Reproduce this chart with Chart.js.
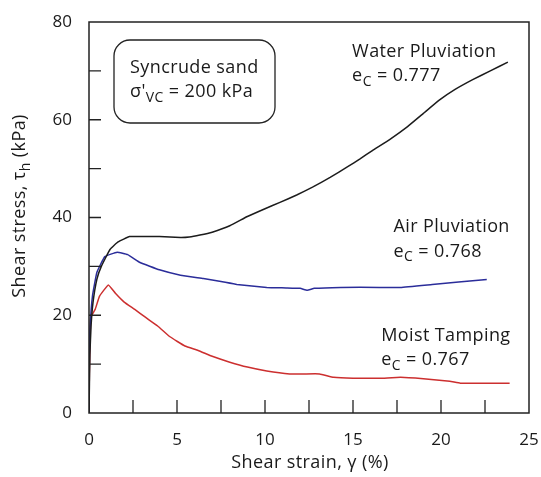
<!DOCTYPE html>
<html>
<head>
<meta charset="utf-8">
<script src="https://cdn.jsdelivr.net/npm/chart.js@4"></script>
<style>
  body { margin: 0; background: #fff; }
  #wrap { width: 541px; height: 477px; }
</style>
</head>
<body>
<div id="wrap"><canvas id="myChart"></canvas></div>
<script>
// shear strain (%) / shear stress (kPa)
var waterStrain = [0, 0.05, 0.12, 0.23, 0.45, 0.7, 1.2, 1.65, 2.3, 3, 4, 5.2, 5.7, 6.3, 7.0, 8.0, 9.0, 10.0, 10.85, 11.8, 12.7, 13.7, 14.7, 15.4, 16.1, 17.1, 18.1, 19.0, 19.9, 20.8, 21.8, 22.8, 23.8];
var waterStress = [0, 12, 18, 22.7, 27.4, 30, 33.5, 35, 36.1, 36.1, 36.1, 35.9, 36, 36.4, 37, 38.3, 40.2, 41.8, 43.1, 44.6, 46.2, 48.2, 50.4, 52, 53.7, 56, 58.6, 61.3, 64, 66.2, 68.2, 70, 71.8];

var airStrain = [0, 0.02, 0.05, 0.2, 0.45, 0.9, 1.6, 2.2, 2.9, 4, 5.2, 6.5, 7.5, 8.4, 10.1, 11.2, 12.0, 12.4, 12.8, 14.3, 16.5, 17.7, 19.5, 21, 22.6];
var airStress = [0, 11.6, 17, 24, 28.8, 32, 32.9, 32.4, 30.8, 29.3, 28.2, 27.5, 26.9, 26.3, 25.7, 25.6, 25.5, 25.1, 25.5, 25.7, 25.7, 25.7, 26.3, 26.8, 27.3];

var moistStrain = [0, 0.02, 0.05, 0.1, 0.35, 0.6, 1.1, 1.5, 2.0, 2.6, 3.2, 3.9, 4.6, 5.45, 6.2, 7.0, 8.0, 9.0, 10.1, 11.4, 12.2, 13.1, 13.9, 15.0, 16.5, 17.7, 19.0, 20.5, 21.1, 22.5, 23.9];
var moistStress = [0, 8, 13, 19.6, 21.2, 23.9, 26.2, 24.5, 22.7, 21.2, 19.6, 17.8, 15.6, 13.7, 12.8, 11.6, 10.4, 9.4, 8.6, 8.0, 8.0, 8.0, 7.3, 7.1, 7.1, 7.3, 7.0, 6.5, 6.1, 6.1, 6.1];

var xTickLabels = [0, 5, 10, 15, 20, 25];
var yTickLabels = [0, 20, 40, 60, 80];

// labels next to the curves (position in data units)
var curveNotes = [
  { name: 'Water Pluviation', ec: '0.777', x: 14.95, y: 73.9, y2: 68.9 },
  { name: 'Air Pluviation', ec: '0.768', x: 17.3, y: 38.1, y2: 33.0 },
  { name: 'Moist Tamping', ec: '0.767', x: 16.6, y: 15.8, y2: 10.8 }
];

function pts(xs, ys) {
  var out = [];
  for (var i = 0; i < xs.length; i++) out.push({ x: xs[i], y: ys[i] });
  return out;
}

var FONT = '"Open Sans", sans-serif';
var TXT = 18;

// text with subscript parts: [[text, isSub], ...]
function drawRich(ctx, parts, x, y, size) {
  var cx = x;
  parts.forEach(function (p) {
    if (p[1]) {
      ctx.font = Math.round(size * 0.78) + 'px ' + FONT;
      ctx.fillText(p[0], cx, y + size * 0.32);
    } else {
      ctx.font = size + 'px ' + FONT;
      ctx.fillText(p[0], cx, y);
    }
    cx += ctx.measureText(p[0]).width;
  });
  return cx - x;
}
function richWidth(ctx, parts, size) {
  var w = 0;
  parts.forEach(function (p) {
    ctx.font = (p[1] ? Math.round(size * 0.78) : size) + 'px ' + FONT;
    w += ctx.measureText(p[0]).width;
  });
  return w;
}

var decor = {
  id: 'decor',
  afterDraw: function (chart) {
    var ctx = chart.ctx;
    var xs = chart.scales.x, ys = chart.scales.y;
    var a = chart.chartArea;
    ctx.save();
    // frame
    ctx.strokeStyle = '#222';
    ctx.lineWidth = 1.5;
    ctx.strokeRect(a.left, a.top, a.right - a.left, a.bottom - a.top);
    // inside ticks
    ctx.lineWidth = 1.3;
    ctx.beginPath();
    for (var v = 2.5; v < 25; v += 2.5) {
      var px = xs.getPixelForValue(v);
      ctx.moveTo(px, a.bottom);
      ctx.lineTo(px, a.bottom - 13);
    }
    for (var w = 10; w < 80; w += 10) {
      var py = ys.getPixelForValue(w);
      ctx.moveTo(a.left, py);
      ctx.lineTo(a.left + 12, py);
    }
    ctx.stroke();

    ctx.fillStyle = '#1a1a1a';
    ctx.textBaseline = 'middle';
    ctx.textAlign = 'left';
    ctx.letterSpacing = '0.4px';

    // curve notes
    curveNotes.forEach(function (n) {
      var px = xs.getPixelForValue(n.x);
      ctx.font = TXT + 'px ' + FONT;
      ctx.fillText(n.name, px, ys.getPixelForValue(n.y));
      drawRich(ctx, [['e', false], ['C', true], [' = ' + n.ec, false]], px, ys.getPixelForValue(n.y2), TXT);
    });

    // info box
    var bx = 114, by = 40, bw = 161, bh = 83, r = 16;
    ctx.strokeStyle = '#222';
    ctx.lineWidth = 1.3;
    ctx.beginPath();
    ctx.roundRect(bx, by, bw, bh, r);
    ctx.fillStyle = '#fff';
    ctx.fill();
    ctx.stroke();
    ctx.fillStyle = '#1a1a1a';
    ctx.font = TXT + 'px ' + FONT;
    ctx.fillText('Syncrude sand', 130, 68);
    drawRich(ctx, [['\u03c3\'', false], ['VC', true], [' = 200 kPa', false]], 130, 92, TXT);

    // axis titles
    var xt = [['Shear strain, \u03b3 (%)', false]];
    var xw = richWidth(ctx, xt, TXT);
    drawRich(ctx, xt, 310 - xw / 2, 463, TXT);

    var yt = [['Shear stress, \u03c4', false], ['h', true], [' (kPa)', false]];
    var yw = richWidth(ctx, yt, TXT);
    ctx.translate(20, 206);
    ctx.rotate(-Math.PI / 2);
    drawRich(ctx, yt, -yw / 2, 0, TXT);
    ctx.restore();
  }
};

var ctx = document.getElementById('myChart').getContext('2d');
var myChart = new Chart(ctx, {
  type: 'line',
  data: {
    datasets: [
      { label: 'Water Pluviation', data: pts(waterStrain, waterStress), borderColor: '#1c1c1c', borderWidth: 1.5 },
      { label: 'Air Pluviation', data: pts(airStrain, airStress), borderColor: '#2b2d9a', borderWidth: 1.5 },
      { label: 'Moist Tamping', data: pts(moistStrain, moistStress), borderColor: '#cc2f2f', borderWidth: 1.5 }
    ]
  },
  options: {
    responsive: true,
    maintainAspectRatio: false,
    animation: false,
    layout: { padding: { top: 22, right: 12, left: 0, bottom: 0 } },
    elements: { point: { radius: 0 }, line: { tension: 0.1, fill: false } },
    plugins: { legend: { display: false }, tooltip: { enabled: false } },
    scales: {
      x: {
        type: 'linear',
        min: 0, max: 25,
        border: { display: false },
        grid: { display: false },
        afterBuildTicks: function (s) { s.ticks = xTickLabels.map(function (v) { return { value: v }; }); },
        afterFit: function (s) { s.height = 64; s.paddingRight = 0; s.paddingLeft = 0; },
        ticks: { color: '#1a1a1a', padding: 9, maxRotation: 0, font: { family: '"Open Sans"', size: 17 } }
      },
      y: {
        min: 0, max: 80,
        border: { display: false },
        grid: { display: false },
        afterBuildTicks: function (s) { s.ticks = yTickLabels.map(function (v) { return { value: v }; }); },
        afterFit: function (s) { s.width = 89; s.paddingTop = 0; s.paddingBottom = 0; },
        ticks: { color: '#1a1a1a', padding: 9, font: { family: '"Open Sans"', size: 17 } }
      }
    }
  },
  plugins: [decor]
});
</script>
</body>
</html>
